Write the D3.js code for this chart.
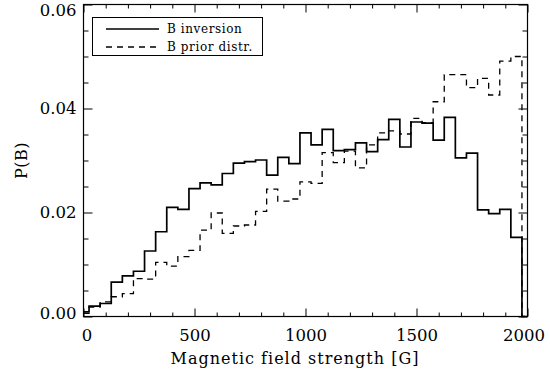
<!DOCTYPE html>
<html>
<head>
<meta charset="utf-8">
<script src="https://cdn.jsdelivr.net/npm/d3@7"></script>
<style>
  html, body { margin: 0; padding: 0; background: #fff; }
  svg { display: block; }
  text { font-family: "DejaVu Serif", "Liberation Serif", serif; fill: #000; }
</style>
</head>
<body>
<svg id="chart" width="550" height="378"></svg>
<script>
// ---- data ----
const fieldStrength = [0,50,100,150,200,250,300,350,400,450,500,550,600,650,700,750,800,850,900,950,
  1000,1050,1100,1150,1200,1250,1300,1350,1400,1450,1500,1550,1600,1650,1700,1750,1800,1850,1900,1950,2000];
const pInversion = [0.0009,0.0020,0.0025,0.0066,0.0078,0.0087,0.0126,0.0163,0.0210,0.0206,
  0.0246,0.0257,0.0253,0.0275,0.0295,0.0298,0.0301,0.0272,0.0306,0.0294,
  0.0353,0.0330,0.0360,0.0319,0.0321,0.0334,0.0317,0.0340,0.0379,0.0326,
  0.0374,0.0372,0.0339,0.0383,0.0305,0.0314,0.0205,0.0198,0.0206,0.0152,0.0];
const pPrior = [0.0006,0.0018,0.0028,0.0038,0.0044,0.0073,0.0072,0.0104,0.0097,0.0115,
  0.0127,0.0166,0.0199,0.0160,0.0174,0.0176,0.0202,0.0245,0.0222,0.0226,
  0.0259,0.0256,0.0315,0.0296,0.0318,0.0286,0.0330,0.0353,0.0357,0.0351,
  0.0381,0.0373,0.0413,0.0465,0.0465,0.0440,0.0458,0.0426,0.0491,0.0500,0.0];
const xMajorTicks = [0,500,1000,1500,2000];
const xMinorTicks = [100,200,300,400,600,700,800,900,1100,1200,1300,1400,1600,1700,1800,1900];
const yMajorTicks = [0.00,0.02,0.04,0.06];
const yMinorTicks = [0.005,0.010,0.015,0.025,0.030,0.035,0.045,0.050,0.055];
const legendLabels = ["B inversion","B prior distr."];
const xTitle = "Magnetic field strength [G]";
const yTitle = "P(B)";

// ---- layout ----
const L = 83.5, R = 527.5, T = 4.5, B = 316.5;
const svg = d3.select("#chart");
const x = d3.scaleLinear().domain([0,2000]).range([L,R]);
const y = d3.scaleLinear().domain([0,0.06]).range([B,T]);

// frame
svg.append("rect").attr("x",L).attr("y",T).attr("width",R-L).attr("height",B-T)
  .attr("fill","none").attr("stroke","#000").attr("stroke-width",1.2);

function styleAxis(g){ g.select(".domain").remove(); g.selectAll("line").attr("stroke","#000").attr("stroke-width",1); }

// bottom axis (major with labels)
svg.append("g").attr("transform",`translate(0,${B})`)
  .call(d3.axisBottom(x).tickValues(xMajorTicks).tickSize(-8).tickPadding(13).tickFormat(d3.format("d")))
  .call(styleAxis)
  .call(g=>g.selectAll("text").attr("font-size",16.5).attr("font-family","DejaVu Serif")
    .attr("x", d => d === 0 ? 3 : (d === 2000 ? -4 : 0)));
svg.append("g").attr("transform",`translate(0,${B})`)
  .call(d3.axisBottom(x).tickValues(xMinorTicks).tickSize(-4).tickFormat(""))
  .call(styleAxis);
// top axis
svg.append("g").attr("transform",`translate(0,${T})`)
  .call(d3.axisTop(x).tickValues(xMajorTicks).tickSize(-8).tickFormat(""))
  .call(styleAxis);
svg.append("g").attr("transform",`translate(0,${T})`)
  .call(d3.axisTop(x).tickValues(xMinorTicks).tickSize(-4).tickFormat(""))
  .call(styleAxis);
// left axis
svg.append("g").attr("transform",`translate(${L},0)`)
  .call(d3.axisLeft(y).tickValues(yMajorTicks).tickSize(-9).tickPadding(7).tickFormat(d3.format(".2f")))
  .call(styleAxis)
  .call(g=>g.selectAll("text").attr("font-size",16.5).attr("font-family","DejaVu Serif")
    .attr("y", d => d === 0.06 ? 6 : (d === 0 ? -3 : 0)));
svg.append("g").attr("transform",`translate(${L},0)`)
  .call(d3.axisLeft(y).tickValues(yMinorTicks).tickSize(-5).tickFormat(""))
  .call(styleAxis);
// right axis
svg.append("g").attr("transform",`translate(${R},0)`)
  .call(d3.axisRight(y).tickValues(yMajorTicks).tickSize(-9).tickFormat(""))
  .call(styleAxis);
svg.append("g").attr("transform",`translate(${R},0)`)
  .call(d3.axisRight(y).tickValues(yMinorTicks).tickSize(-5).tickFormat(""))
  .call(styleAxis);

// titles
svg.append("text").attr("x",295).attr("y",364).attr("text-anchor","middle")
  .attr("font-size",16).attr("letter-spacing",1).text(xTitle);
svg.append("text").attr("transform",`translate(27,${(T+B)/2}) rotate(-90)`)
  .attr("text-anchor","middle").attr("font-size",16).attr("letter-spacing",0.5).text(yTitle);

// histogram lines (IDL psym=10 style: step at midpoints)
const line = d3.line().x((d,i)=>x(fieldStrength[i])).y(d=>y(d)).curve(d3.curveStep);
svg.append("path").datum(pPrior).attr("d",line).attr("fill","none")
  .attr("stroke","#000").attr("stroke-width",1.3).attr("stroke-dasharray","6,5");
svg.append("path").datum(pInversion).attr("d",line).attr("fill","none")
  .attr("stroke","#000").attr("stroke-width",1.7);

// legend
const lg = svg.append("g");
lg.append("rect").attr("x",92.5).attr("y",17.5).attr("width",170).attr("height",38)
  .attr("fill","#fff").attr("stroke","#000").attr("stroke-width",1);
const rows = [{dash:null},{dash:"6,5"}];
legendLabels.forEach((lab,i)=>{
  const yy = 29 + i*18;
  lg.append("line").attr("x1",106).attr("x2",159).attr("y1",yy).attr("y2",yy)
    .attr("stroke","#000").attr("stroke-width",i===0?1.6:1.3)
    .attr("stroke-dasharray",rows[i].dash);
  lg.append("text").attr("x",167).attr("y",yy+4).attr("font-size",12)
    .attr("letter-spacing",0.6).text(lab);
});
</script>
</body>
</html>
